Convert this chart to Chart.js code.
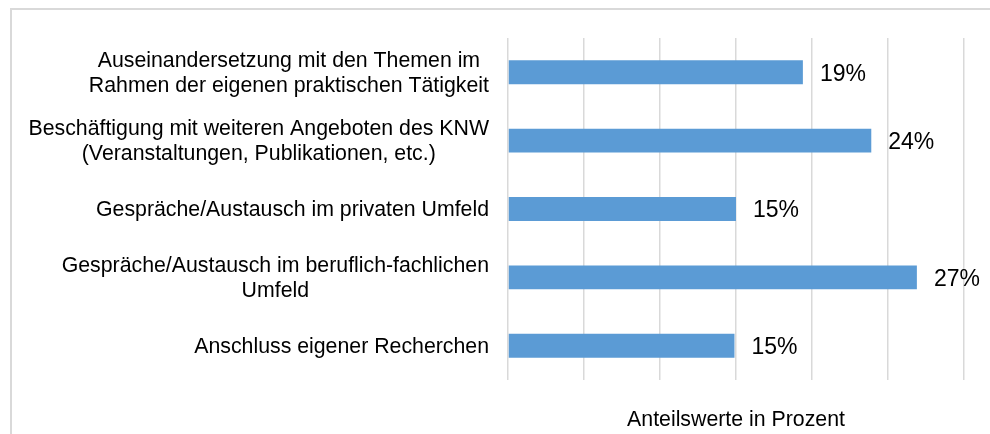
<!DOCTYPE html>
<html lang="de">
<head>
<meta charset="utf-8">
<title>Anteilswerte</title>
<script src="https://cdn.jsdelivr.net/npm/chart.js@4.4.1/dist/chart.umd.min.js"></script>
<style>
  html, body { margin: 0; padding: 0; background: #fff; overflow: hidden; }
  #frame {
    position: absolute; left: 10px; top: 8px; width: 1000px; height: 450px;
    border-left: 2px solid #d9d9d9; border-top: 2px solid #d9d9d9;
  }
  #chart { position: absolute; left: 0; top: 0; }
</style>
</head>
<body>
<div id="frame"></div>
<canvas id="chart" width="990" height="434"></canvas>
<script>
const categories = [
    ['Auseinandersetzung mit den Themen im', 'Rahmen der eigenen praktischen Tätigkeit'],
    ['Beschäftigung mit weiteren Angeboten des KNW', '(Veranstaltungen, Publikationen, etc.)'],
    ['Gespräche/Austausch im privaten Umfeld'],
    ['Gespräche/Austausch im beruflich-fachlichen', 'Umfeld'],
    ['Anschluss eigener Recherchen']
];
const shares = [19.4, 23.9, 15, 26.9, 14.9];
const axisTitle = 'Anteilswerte in Prozent';

const FONT = '"Liberation Sans", Arial, sans-serif';

// category labels: block right-aligned, lines centred inside the block
const categoryLabels = {
    id: 'categoryLabels',
    afterDraw(chart) {
        const ctx = chart.ctx;
        const y = chart.scales.y;
        const right = chart.chartArea.left - 19;
        const lineH = 25;
        ctx.save();
        ctx.font = '21.3px ' + FONT;
        ctx.fillStyle = '#000';
        ctx.textAlign = 'center';
        ctx.textBaseline = 'middle';
        categories.forEach((lines, i) => {
            const w = Math.max(...lines.map(l => ctx.measureText(l).width));
            const cx = right - w / 2;
            const cy = y.getPixelForValue(i) + 1;
            lines.forEach((l, j) => {
                ctx.fillText(l, cx, cy + (j - (lines.length - 1) / 2) * lineH);
            });
        });
        ctx.restore();
    }
};

// value labels to the right of each bar
const valueLabels = {
    id: 'valueLabels',
    afterDatasetsDraw(chart) {
        const ctx = chart.ctx;
        const meta = chart.getDatasetMeta(0);
        ctx.save();
        ctx.font = '23px ' + FONT;
        ctx.fillStyle = '#000';
        ctx.textAlign = 'left';
        ctx.textBaseline = 'middle';
        meta.data.forEach((bar, i) => {
            ctx.fillText(Math.round(shares[i]) + '%', bar.x + 17, bar.y + 2);
        });
        ctx.restore();
    }
};

new Chart(document.getElementById('chart'), {
    type: 'bar',
    data: {
        labels: categories,
        datasets: [{
            data: shares,
            backgroundColor: '#5b9bd5',
            borderWidth: 0,
            categoryPercentage: 1,
            barPercentage: 0.35
        }]
    },
    options: {
        indexAxis: 'y',
        responsive: false,
        animation: false,
        devicePixelRatio: 1,
        layout: { padding: { top: 38, right: 26, left: 0, bottom: 0 } },
        plugins: { legend: { display: false }, tooltip: { enabled: false } },
        scales: {
            x: {
                min: 0,
                max: 30,
                ticks: { display: false, stepSize: 5 },
                grid: { color: '#d9d9d9', lineWidth: 1.5, drawTicks: false },
                border: { display: false },
                title: {
                    display: true,
                    text: axisTitle,
                    color: '#000',
                    font: { family: FONT, size: 21.3 },
                    padding: { top: 0, bottom: 1 }
                },
                afterFit(scale) { scale.height = 54; }
            },
            y: {
                ticks: { display: false },
                grid: { display: false },
                border: { display: false },
                afterFit(scale) { scale.width = 508; }
            }
        }
    },
    plugins: [categoryLabels, valueLabels]
});
</script>
</body>
</html>
